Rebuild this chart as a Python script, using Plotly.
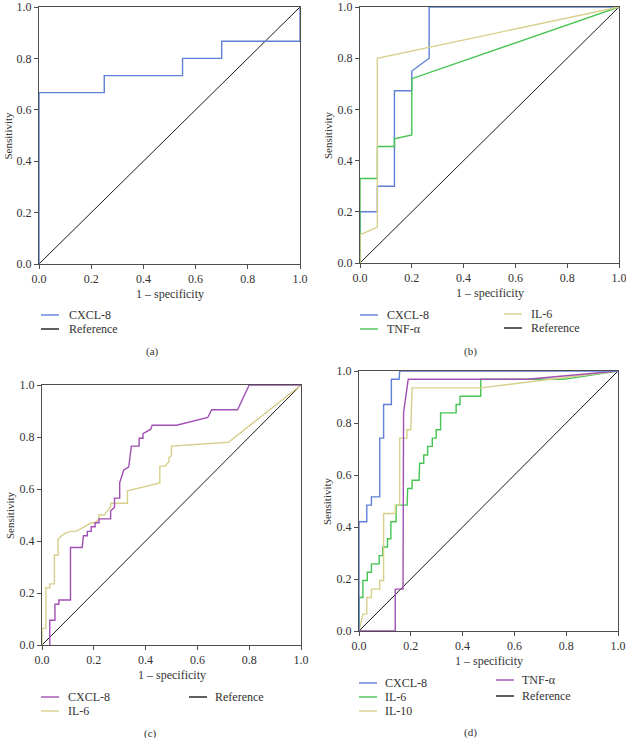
import plotly.graph_objects as go

W, H = 626, 738

# ---------------- data ----------------
REF_X = [0, 1]
REF_Y = [0, 1]

# (a)
A_CXCL8_X = [0, 0, 0.25, 0.25, 0.55, 0.55, 0.70, 0.70, 1.0, 1.0]
A_CXCL8_Y = [0, 0.667, 0.667, 0.733, 0.733, 0.80, 0.80, 0.867, 0.867, 1.0]

# (b)
B_CXCL8_X = [0, 0, 0.067, 0.067, 0.133, 0.133, 0.20, 0.20, 0.267, 0.267, 1.0]
B_CXCL8_Y = [0, 0.20, 0.20, 0.30, 0.30, 0.673, 0.673, 0.75, 0.80, 1.0, 1.0]
B_TNF_X = [0, 0, 0.067, 0.067, 0.133, 0.133, 0.20, 0.20, 1.0]
B_TNF_Y = [0, 0.33, 0.33, 0.455, 0.455, 0.485, 0.50, 0.72, 1.0]
B_IL6_X = [0, 0, 0.067, 0.067, 1.0]
B_IL6_Y = [0, 0.11, 0.14, 0.80, 1.0]

# (c)
C_CXCL8_X = [0.03, 0.03, 0.05, 0.05, 0.065, 0.065, 0.11, 0.11, 0.155, 0.16, 0.175,
             0.175, 0.19, 0.19, 0.205, 0.205, 0.22, 0.22, 0.265, 0.265, 0.28, 0.28,
             0.30, 0.30, 0.31, 0.315, 0.335, 0.345, 0.375, 0.375, 0.39, 0.39, 0.42,
             0.425, 0.52, 0.64, 0.655, 0.755, 0.80, 1.0]
C_CXCL8_Y = [0, 0.095, 0.095, 0.157, 0.157, 0.173, 0.173, 0.375, 0.375, 0.42, 0.42,
             0.437, 0.437, 0.455, 0.455, 0.47, 0.47, 0.485, 0.485, 0.515, 0.53, 0.565,
             0.565, 0.625, 0.655, 0.672, 0.685, 0.765, 0.765, 0.795, 0.795, 0.813, 0.83,
             0.845, 0.845, 0.875, 0.905, 0.905, 1.0, 1.0]
C_IL6_X = [0, 0, 0.015, 0.015, 0.03, 0.03, 0.048, 0.048, 0.062, 0.062, 0.075, 0.09,
           0.11, 0.13, 0.15, 0.19, 0.205, 0.22, 0.22, 0.24, 0.265, 0.265, 0.33, 0.33,
           0.455, 0.455, 0.475, 0.49, 0.49, 0.50, 0.50, 0.72, 1.0]
C_IL6_Y = [0, 0.064, 0.064, 0.22, 0.22, 0.235, 0.235, 0.345, 0.345, 0.405, 0.42, 0.43,
           0.437, 0.437, 0.447, 0.47, 0.47, 0.485, 0.50, 0.50, 0.53, 0.545, 0.545, 0.593,
           0.623, 0.688, 0.688, 0.705, 0.72, 0.73, 0.765, 0.78, 1.0]

# (d)
D_CXCL8_X = [0, 0, 0.03, 0.03, 0.048, 0.048, 0.08, 0.08, 0.095, 0.095, 0.125, 0.125,
             0.155, 0.157, 1.0]
D_CXCL8_Y = [0, 0.42, 0.42, 0.484, 0.484, 0.516, 0.516, 0.742, 0.742, 0.871, 0.871,
             0.968, 0.968, 1.0, 1.0]
D_IL6_X = [0, 0, 0.015, 0.015, 0.032, 0.032, 0.048, 0.048, 0.078, 0.078, 0.092, 0.092,
           0.11, 0.11, 0.123, 0.123, 0.143, 0.143, 0.186, 0.188, 0.205, 0.205, 0.232,
           0.234, 0.25, 0.25, 0.265, 0.265, 0.283, 0.283, 0.298, 0.298, 0.315, 0.315,
           0.375, 0.375, 0.39, 0.39, 0.47, 0.47, 0.79, 1.0]
D_IL6_Y = [0, 0.129, 0.129, 0.194, 0.194, 0.226, 0.226, 0.258, 0.258, 0.29, 0.29, 0.323,
           0.323, 0.355, 0.355, 0.42, 0.42, 0.484, 0.484, 0.548, 0.548, 0.58, 0.58,
           0.645, 0.645, 0.677, 0.677, 0.71, 0.71, 0.742, 0.742, 0.774, 0.774, 0.839,
           0.839, 0.871, 0.871, 0.903, 0.903, 0.968, 0.968, 1.0]
D_IL10_X = [0, 0.015, 0.03, 0.03, 0.048, 0.048, 0.08, 0.08, 0.095, 0.095, 0.14, 0.14,
            0.157, 0.157, 0.185, 0.185, 0.20, 0.205, 0.47, 1.0]
D_IL10_Y = [0, 0.065, 0.065, 0.129, 0.129, 0.161, 0.161, 0.194, 0.194, 0.452, 0.452,
            0.484, 0.484, 0.742, 0.742, 0.774, 0.774, 0.935, 0.935, 1.0]
D_TNF_X = [0, 0.14, 0.14, 0.17, 0.172, 0.19, 0.65, 1.0]
D_TNF_Y = [0, 0, 0.161, 0.161, 0.839, 0.968, 0.968, 1.0]

TICKS = [0.0, 0.2, 0.4, 0.6, 0.8, 1.0]
TICK_TEXT = ["0.0", "0.2", "0.4", "0.6", "0.8", "1.0"]

BLUE = "#5f80d6"
GREEN = "#46c452"
KHAKI = "#d8cf8c"
PURPLE = "#a24fb3"
BLACK = "#1a1a1a"

FONT = "'Liberation Serif', 'Times New Roman', 'DejaVu Serif', serif"

# panel boxes in pixels: (left, right, top, bottom)
PANELS = {
    "a": (39, 300, 7, 264),
    "b": (360, 619, 7, 263),
    "c": (42, 301, 385, 645),
    "d": (359, 618, 371, 631),
}

SERIES = {
    "a": [("CXCL-8", A_CXCL8_X, A_CXCL8_Y, BLUE)],
    "b": [("CXCL-8", B_CXCL8_X, B_CXCL8_Y, BLUE),
          ("TNF-α", B_TNF_X, B_TNF_Y, GREEN),
          ("IL-6", B_IL6_X, B_IL6_Y, KHAKI)],
    "c": [("IL-6", C_IL6_X, C_IL6_Y, KHAKI),
          ("CXCL-8", C_CXCL8_X, C_CXCL8_Y, PURPLE)],
    "d": [("IL-6", D_IL6_X, D_IL6_Y, GREEN),
          ("IL-10", D_IL10_X, D_IL10_Y, KHAKI),
          ("TNF-α", D_TNF_X, D_TNF_Y, PURPLE),
          ("CXCL-8", D_CXCL8_X, D_CXCL8_Y, BLUE)],
}

# legend layout: (label, color, line_x0, text_x, y) in pixels
LEGENDS = {
    "a": [("CXCL-8", BLUE, 41, 67, 315), ("Reference", BLACK, 41, 67, 329)],
    "b": [("CXCL-8", BLUE, 360, 385, 315), ("TNF-α", GREEN, 360, 385, 329),
          ("IL-6", KHAKI, 504, 529, 314), ("Reference", BLACK, 504, 529, 328)],
    "c": [("CXCL-8", PURPLE, 41, 66, 697), ("IL-6", KHAKI, 41, 66, 711),
          ("Reference", BLACK, 189, 213, 697)],
    "d": [("CXCL-8", BLUE, 359, 383, 683), ("IL-6", GREEN, 359, 383, 697),
          ("IL-10", KHAKI, 359, 383, 711), ("TNF-α", PURPLE, 496, 520, 680),
          ("Reference", BLACK, 496, 520, 696)],
}
CAPTIONS = {"a": (152, 351), "b": (471, 351), "c": (150, 733), "d": (470, 732)}


def px(x):
    return x / W


def py(y):
    return 1 - y / H


fig = go.Figure()
annotations = []
shapes = []

for i, key in enumerate(["a", "b", "c", "d"]):
    l, r, t, b = PANELS[key]
    suffix = "" if i == 0 else str(i + 1)
    xa, ya = "x" + suffix, "y" + suffix
    # reference diagonal
    fig.add_trace(go.Scatter(x=REF_X, y=REF_Y, mode="lines", xaxis=xa, yaxis=ya,
                             line=dict(color=BLACK, width=1), showlegend=False,
                             name="Reference"))
    for name, xs, ys, col in SERIES[key]:
        fig.add_trace(go.Scatter(x=xs, y=ys, mode="lines", xaxis=xa, yaxis=ya,
                                 line=dict(color=col, width=1.4), showlegend=False,
                                 name=name))
    axis_common = dict(range=[0, 1], tickvals=TICKS, ticktext=TICK_TEXT,
                       showgrid=False, zeroline=False, showline=True, mirror=True,
                       linecolor="#4d4d4d", linewidth=1, ticks="outside",
                       ticklen=4, tickcolor="#4d4d4d", automargin=False,
                       ticklabeloverflow="allow",
                       tickfont=dict(family=FONT, size=12, color="#333333"))
    fig.layout["xaxis" + suffix] = dict(domain=[px(l), px(r)], anchor=ya, **axis_common)
    fig.layout["yaxis" + suffix] = dict(domain=[py(b), py(t)], anchor=xa, **axis_common)

    # axis titles
    annotations.append(dict(text="1 – specificity", x=px((l + r) / 2), y=py(b + 30),
                            xref="paper", yref="paper", showarrow=False,
                            xanchor="center", yanchor="middle",
                            font=dict(family=FONT, size=12, color="#333333")))
    annotations.append(dict(text="Sensitivity", x=px(l - 32), y=py((t + b) / 2),
                            xref="paper", yref="paper", showarrow=False, textangle=-90,
                            xanchor="center", yanchor="middle",
                            font=dict(family=FONT, size=11, color="#333333")))
    # legend
    for label, col, lx, tx, yy in LEGENDS[key]:
        shapes.append(dict(type="line", xref="paper", yref="paper",
                           x0=px(lx), x1=px(lx + 18), y0=py(yy), y1=py(yy),
                           line=dict(color=col, width=1.4)))
        annotations.append(dict(text=label, x=px(tx), y=py(yy), xref="paper",
                                yref="paper", showarrow=False, xanchor="left",
                                yanchor="middle",
                                font=dict(family=FONT, size=12, color="#333333")))
    cx, cy = CAPTIONS[key]
    annotations.append(dict(text="(" + key + ")", x=px(cx), y=py(cy), xref="paper",
                            yref="paper", showarrow=False, xanchor="center",
                            yanchor="middle",
                            font=dict(family=FONT, size=11, color="#333333")))

fig.update_layout(width=W, height=H, margin=dict(l=0, r=0, t=0, b=0),
                  paper_bgcolor="white", plot_bgcolor="white", showlegend=False,
                  font=dict(family=FONT),
                  annotations=annotations, shapes=shapes)

fig.write_html("out.html")
